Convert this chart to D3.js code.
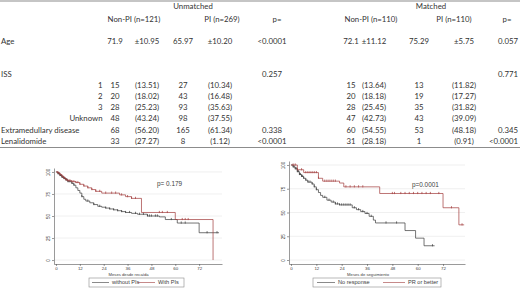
<!DOCTYPE html>
<html>
<head>
<meta charset="utf-8">
<script src="https://d3js.org/d3.v7.min.js"></script>
<style>
  body { margin: 0; background: #fff; }
  svg { display: block; }
  .tbl text { font-family: Lato, "Liberation Sans", sans-serif; font-size: 7.8px; fill: #333; }
  .km text { font-family: "Liberation Sans", Arial, sans-serif; fill: #3c3c3c; }
</style>
</head>
<body>
<svg id="chart" width="520" height="292"></svg>
<script>
// TABLE DATA
const rowLabels = ["Age", "ISS", "1", "2", "3", "Unknown", "Extramedullary disease", "Lenalidomide"]
const unmatchedNonPIn = ["71.9", "", "15", "20", "28", "48", "68", "33"]
const unmatchedNonPIpct = ["±10.95", "", "(13.51)", "(18.02)", "(25.23)", "(43.24)", "(56.20)", "(27.27)"]
const unmatchedPIn = ["65.97", "", "27", "43", "93", "98", "165", "8"]
const unmatchedPIpct = ["±10.20", "", "(10.34)", "(16.48)", "(35.63)", "(37.55)", "(61.34)", "(1.12)"]
const unmatchedP = ["<0.0001", "0.257", "", "", "", "", "0.338", "<0.0001"]
const matchedNonPIn = ["72.1", "", "15", "20", "28", "47", "60", "31"]
const matchedNonPIpct = ["±11.12", "", "(13.64)", "(18.18)", "(25.45)", "(42.73)", "(54.55)", "(28.18)"]
const matchedPIn = ["75.29", "", "13", "19", "35", "43", "53", "1"]
const matchedPIpct = ["±5.75", "", "(11.82)", "(17.27)", "(31.82)", "(39.09)", "(48.18)", "(0.91)"]
const matchedP = ["0.057", "0.771", "", "", "", "", "0.345", "<0.0001"]

// KAPLAN-MEIER DATA  [month, survival %]
const monthTicks = [0, 12, 24, 36, 48, 60, 72]
const survivalTicks = [0, 25, 50, 75, 100]

const leftWithoutPIs = [[0,100],[1,98],[2,96],[3,94],[4,92.5],[5,91],[6,89],[8,87],[9,85],[10,82],[11,79],[12,76],[13,72],[14,69],[15,67],[17,65],[19,63],[21,61],[23,60],[25,59],[27,58],[29,57],[31,56],[33,55],[35,54],[38,53],[41,52],[46,50],[52,49],[55,46],[61,42],[72,31],[82,31]]
const leftWithPIs = [[0,100],[1,99],[2,97],[3,95],[4,93],[5,91],[6,90],[8,89],[10,88],[12,86],[14,84],[16,82],[18,80],[20,78],[23,76],[32,74],[35,72],[38,70],[43,54],[60,46],[79,0]]
const leftWithoutCensored = [1,1.5,2,2.5,3,3.5,4,4.5,5,5.5,6,7,8,9,13,16,19,22,25,27,29,31,33,35,37,40,42,44,46,47,48,50,51,58,63,65,76,81]
const leftWithCensored = [1,2,3,4,5,6,7,8,9,10,11,12,14,16,18,20,22,25,28,30,33,36,38,40,52,53.5,56,63.5,65,66.5]

const rightNoResponse = [[0,100],[1,98],[2,96],[3,93],[4,90],[5,88],[6,86],[7,84],[8,82],[10,80],[11,77],[12,74],[13,71],[14,68],[15,66],[17,63],[19,61],[21,59],[23,58],[29,55],[31,53],[33,51],[35,49],[37,46],[39,42],[40,39],[54,31],[59,23],[63,15],[68,15]]
const rightPRorBetter = [[0,100],[3,95],[6,92],[13,86],[15,83],[23,81],[25,77],[42,70],[72,55],[79.5,37],[82,37]]
const rightNoResponseCensored = [1,1.5,2,2.5,3,3.5,4,4.5,5,5.5,6,7,8,9,10,11,12,16,18,20,21,22,23,24,25,26,27,28,30,32,34,36,38,45,50,67]
const rightPRCensored = [1,2,3,5,7,8,9,10,11,12,13,16,17,18,19,20,21,26,28,30,32,34,48,49,52,54,56,58,60,62,64,66,70,76,81]

const svg = d3.select("#chart")

drawTable()
drawKM({
    xRange: [54, 222], xDomain: [-1, 83.5],
    yRange: [264, 168], yDomain: [-4.5, 104.5],
    xTitle: "Meses desde recaída",
    pText: "p= 0.179", pPos: [157, 186],
    legend: { x: 89, y: 278, w: 95, items: [["without PIs", 92, 112], ["With PIs", 138, 158]] },
    series: [
        { steps: leftWithoutPIs, censored: leftWithoutCensored, color: "#3a3a3a" },
        { steps: leftWithPIs, censored: leftWithCensored, color: "#a03a3a" }
    ]
})
drawKM({
    xRange: [289, 465], xDomain: [-0.95, 82.4],
    yRange: [264, 161], yDomain: [-4.2, 104.2],
    xTitle: "Meses de seguimiento",
    pText: "p=0.0001", pPos: [412, 187],
    legend: { x: 313, y: 278, w: 128, items: [["No response", 317, 338], ["PR or better", 383, 408]] },
    series: [
        { steps: rightNoResponse, censored: rightNoResponseCensored, color: "#3a3a3a" },
        { steps: rightPRorBetter, censored: rightPRCensored, color: "#a03a3a" }
    ]
})

// TABLE
function drawTable() {
    let g = svg.append("g").attr("class", "tbl")
    let rowY = [41.5, 74.5, 85, 96, 107, 118, 130, 141]

    g.append("line").attr("x1", 0).attr("x2", 520).attr("y1", 1).attr("y2", 1)
        .attr("stroke", "#8c8c8c").attr("stroke-width", 1.2)
    g.append("line").attr("x1", 0).attr("x2", 520).attr("y1", 147.5).attr("y2", 147.5)
        .attr("stroke", "#8c8c8c").attr("stroke-width", 1.2)

    let put = (txt, x, y, anchor) => g.append("text")
        .attr("x", x).attr("y", y).attr("dy", "0.35em")
        .attr("text-anchor", anchor || "middle").text(txt)

    // headers
    put("Unmatched", 193, 6.5)
    put("Matched", 431, 6.5)
    put("Non-PI (n=121)", 134, 19.5)
    put("PI (n=269)", 222, 19.5)
    put("p=", 277, 19.5)
    put("Non-PI (n=110)", 371, 19.5)
    put("PI (n=110)", 454, 19.5)
    put("p=", 507, 19.5)

    // row labels: ISS sub-rows are right aligned
    rowLabels.forEach((lab, i) => {
        if (i >= 2 && i <= 5) put(lab, 102.5, rowY[i], "end")
        else put(lab, 1, rowY[i], "start")
    })

    let cols = [
        [unmatchedNonPIn, 115], [unmatchedNonPIpct, 147], [unmatchedPIn, 183], [unmatchedPIpct, 220],
        [unmatchedP, 272],
        [matchedNonPIn, 351], [matchedNonPIpct, 374], [matchedPIn, 419], [matchedPIpct, 464]
    ]
    cols.forEach(([vals, x]) => {
        vals.forEach((v, i) => { if (v) put(v, x, rowY[i]) })
    })
    // last p column sits against the right edge
    matchedP.forEach((v, i) => {
        if (v) put(v, 518, rowY[i], "end")
    })
}

// KM CHART
function survivalAt(steps, m) {
    let s = steps[0][1]
    steps.forEach(d => { if (d[0] <= m) s = d[1] })
    return s
}

function drawKM(cfg) {
    let g = svg.append("g").attr("class", "km")
    let xScale = d3.scaleLinear().domain(cfg.xDomain).range(cfg.xRange)
    let yScale = d3.scaleLinear().domain(cfg.yDomain).range(cfg.yRange)
    let [x0, x1] = cfg.xRange

    // grid
    g.append("g").selectAll("line").data(survivalTicks).enter().append("line")
        .attr("x1", x0).attr("x2", x1)
        .attr("y1", d => yScale(d)).attr("y2", d => yScale(d))
        .attr("stroke", "#ececec").attr("stroke-width", 0.8)

    // axes
    let xAxis = d3.axisBottom(xScale).tickValues(monthTicks).tickSize(2).tickPadding(0.8).tickSizeOuter(0)
    let xg = g.append("g").attr("transform", `translate(0,${cfg.yRange[0]})`).call(xAxis)
    xg.selectAll("text").style("font-size", "4.4px").attr("fill", "#444")
    xg.selectAll("line, path").attr("stroke", "#555").attr("stroke-width", 0.6)

    let yAxis = d3.axisLeft(yScale).tickValues(survivalTicks).tickSize(2).tickSizeOuter(0)
    let yg = g.append("g").attr("transform", `translate(${x0},0)`).call(yAxis)
    yg.selectAll("text")
        .attr("x", 0).attr("dy", 0)
        .attr("transform", "translate(-4,0) rotate(-90)")
        .attr("text-anchor", "middle")
        .style("font-size", "4.6px").attr("fill", "#444")
    yg.selectAll("line, path").attr("stroke", "#555").attr("stroke-width", 0.6)

    g.append("text")
        .attr("x", (xScale(0) + xScale(72)) / 2 + 1).attr("y", cfg.yRange[0] + 11.5)
        .attr("text-anchor", "middle").style("font-size", "4.2px").text(cfg.xTitle)

    // curves
    let line = d3.line().curve(d3.curveStepAfter)
        .x(d => xScale(d[0])).y(d => yScale(d[1]))
    cfg.series.forEach(s => {
        g.append("path").datum(s.steps)
            .attr("d", line).attr("fill", "none")
            .attr("stroke", s.color).attr("stroke-width", 0.7)
        g.append("g").selectAll("line").data(s.censored).enter().append("line")
            .attr("x1", d => xScale(d)).attr("x2", d => xScale(d))
            .attr("y1", d => yScale(survivalAt(s.steps, d)) - 1.6)
            .attr("y2", d => yScale(survivalAt(s.steps, d)) + 0.6)
            .attr("stroke", s.color).attr("stroke-width", 0.7)
    })

    // p value
    g.append("text").attr("x", cfg.pPos[0]).attr("y", cfg.pPos[1])
        .style("font-size", "6.4px").text(cfg.pText)

    // legend
    let L = cfg.legend
    g.append("rect").attr("x", L.x).attr("y", L.y).attr("width", L.w).attr("height", 9)
        .attr("fill", "#fff").attr("stroke", "#8a8a8a").attr("stroke-width", 0.6)
    L.items.forEach((it, i) => {
        g.append("line").attr("x1", it[1]).attr("x2", it[2] - 3)
            .attr("y1", L.y + 4.5).attr("y2", L.y + 4.5)
            .attr("stroke", cfg.series[i].color).attr("stroke-width", 0.6)
        g.append("text").attr("x", it[2]).attr("y", L.y + 4.5).attr("dy", "0.35em")
            .style("font-size", "5.6px").text(it[0])
    })
}
</script>
</body>
</html>
